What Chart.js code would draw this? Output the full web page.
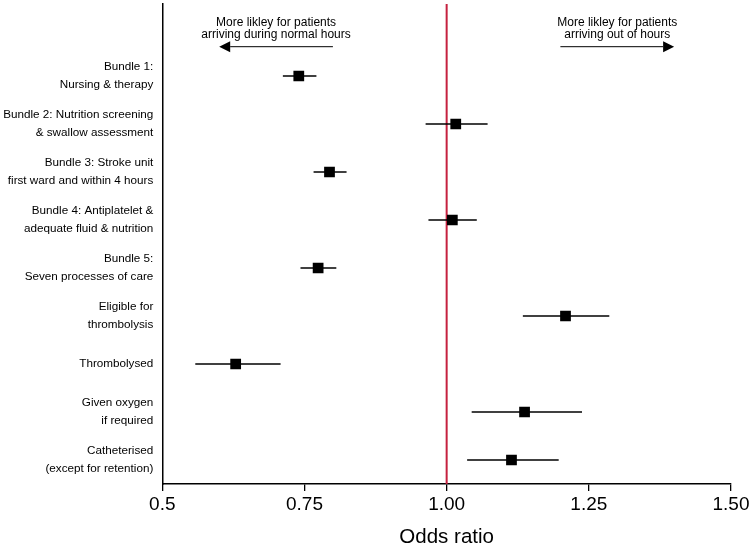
<!DOCTYPE html>
<html>
<head>
<meta charset="utf-8">
<script src="https://cdn.jsdelivr.net/npm/chart.js@4/dist/chart.umd.min.js"></script>
<style>
  html, body { margin: 0; padding: 0; background: #fff; }
  #wrap { width: 754px; height: 548px; }
</style>
</head>
<body>
<div id="wrap"><canvas id="c" width="754" height="548"></canvas></div>
<script>
// ---- data (top row first) ----
const categories = [
  ["Bundle 1:", "Nursing & therapy"],
  ["Bundle 2: Nutrition screening", "& swallow assessment"],
  ["Bundle 3: Stroke unit", "first ward and within 4 hours"],
  ["Bundle 4: Antiplatelet &", "adequate fluid & nutrition"],
  ["Bundle 5:", "Seven processes of care"],
  ["Eligible for", "thrombolysis"],
  ["Thrombolysed"],
  ["Given oxygen", "if required"],
  ["Catheterised", "(except for retention)"]
];
const oddsRatio = [0.740, 1.016, 0.794, 1.010, 0.774, 1.209, 0.629, 1.137, 1.114];
const ciLower   = [0.712, 0.963, 0.766, 0.968, 0.743, 1.134, 0.558, 1.044, 1.036];
const ciUpper   = [0.771, 1.072, 0.824, 1.053, 0.806, 1.286, 0.708, 1.238, 1.197];
const xTicks = [0.5, 0.75, 1.0, 1.25, 1.5];
const xTickLabels = ["0.5", "0.75", "1.00", "1.25", "1.50"];
const referenceValue = 1.0;
const leftNote = ["More likley for patients", "arriving during normal hours"];
const rightNote = ["More likley for patients", "arriving out of hours"];
const leftArrow = [0.8, 0.6];   // from, to (odds ratio)
const rightArrow = [1.2, 1.4];

const FONT = "'Liberation Sans', Arial, Helvetica, sans-serif";
const n = categories.length;
const rowY = i => n - 1 - i;
const yMin = -0.5, yMax = n + 0.5;

const pointData = oddsRatio.map((v, i) => ({ x: v, y: rowY(i) }));
const ciDatasets = oddsRatio.map((v, i) => ({
  type: 'line',
  data: [{ x: ciLower[i], y: rowY(i) }, { x: ciUpper[i], y: rowY(i) }],
  borderColor: '#000',
  borderWidth: 1.4,
  pointRadius: 0,
  fill: false
}));

const notesPlugin = {
  id: 'notes',
  afterDatasetsDraw(chart) {
    const ctx = chart.ctx, xs = chart.scales.x, ys = chart.scales.y;
    ctx.save();
    ctx.fillStyle = '#000';
    ctx.strokeStyle = '#000';
    ctx.font = '12px ' + FONT;
    ctx.textAlign = 'center';
    ctx.textBaseline = 'middle';
    const yL1 = ys.getPixelForValue(yMax - 19 / 48);
    const yL2 = ys.getPixelForValue(yMax - 30.5 / 48);
    const yA = ys.getPixelForValue(yMax - 42.7 / 48);
    function note(lines, arrow) {
      const cx = xs.getPixelForValue((arrow[0] + arrow[1]) / 2);
      ctx.fillText(lines[0], cx, yL1);
      ctx.fillText(lines[1], cx, yL2);
      const x0 = xs.getPixelForValue(arrow[0]);
      const x1 = xs.getPixelForValue(arrow[1]);
      const dir = Math.sign(x1 - x0);
      const head = 11;
      ctx.lineWidth = 1;
      ctx.beginPath();
      ctx.moveTo(x0, yA);
      ctx.lineTo(x1 - dir * head, yA);
      ctx.stroke();
      ctx.beginPath();
      ctx.moveTo(x1, yA);
      ctx.lineTo(x1 - dir * head, yA - 5.5);
      ctx.lineTo(x1 - dir * head, yA + 5.5);
      ctx.closePath();
      ctx.fill();
    }
    note(leftNote, leftArrow);
    note(rightNote, rightArrow);
    ctx.restore();
  }
};

new Chart(document.getElementById('c'), {
  type: 'scatter',
  data: {
    datasets: [
      {
        type: 'scatter',
        data: pointData,
        pointStyle: 'rect',
        pointRadius: 7.6,
        pointBackgroundColor: '#000',
        pointBorderWidth: 0,
        borderColor: '#000',
        backgroundColor: '#000'
      },
      ...ciDatasets,
      {
        type: 'line',
        data: [{ x: referenceValue, y: yMin }, { x: referenceValue, y: yMax }],
        borderColor: '#c5213f',
        borderWidth: 2,
        pointRadius: 0,
        fill: false
      }
    ]
  },
  options: {
    responsive: false,
    animation: false,
    events: [],
    layout: { autoPadding: false, padding: { top: 4, right: 23, left: 0, bottom: 0 } },
    plugins: { legend: { display: false }, tooltip: { enabled: false } },
    scales: {
      x: {
        type: 'linear',
        min: 0.5,
        max: 1.5,
        afterBuildTicks(scale) { scale.ticks = xTicks.map(v => ({ value: v })); },
        afterFit(scale) { scale.height = 64; scale.paddingLeft = 0; scale.paddingRight = 0; },
        ticks: {
          color: '#000',
          font: { family: FONT, size: 19 },
          padding: 2,
          maxRotation: 0,
          autoSkip: false,
          callback: (v, i) => xTickLabels[i]
        },
        grid: { drawOnChartArea: false, drawTicks: true, tickLength: 7, color: '#000', lineWidth: 1.3 },
        border: { display: true, color: '#000', width: 1.5 },
        title: {
          display: true,
          text: 'Odds ratio',
          color: '#000',
          font: { family: FONT, size: 20.5, lineHeight: 1.0 },
          padding: { top: 0, bottom: 0 }
        }
      },
      y: {
        type: 'linear',
        min: yMin,
        max: yMax,
        afterBuildTicks(scale) { scale.ticks = categories.map((c, i) => ({ value: rowY(i) })); },
        afterFit(scale) { scale.width = 162.3; scale.paddingTop = 0; scale.paddingBottom = 0; },
        ticks: {
          color: '#000',
          font: { family: FONT, size: 11.7, lineHeight: 1.57 },
          padding: 9,
          autoSkip: false,
          callback: (v) => categories[n - 1 - v]
        },
        grid: { display: false, drawTicks: false },
        border: { display: true, color: '#000', width: 1.5 }
      }
    }
  },
  plugins: [notesPlugin]
});
</script>
</body>
</html>
